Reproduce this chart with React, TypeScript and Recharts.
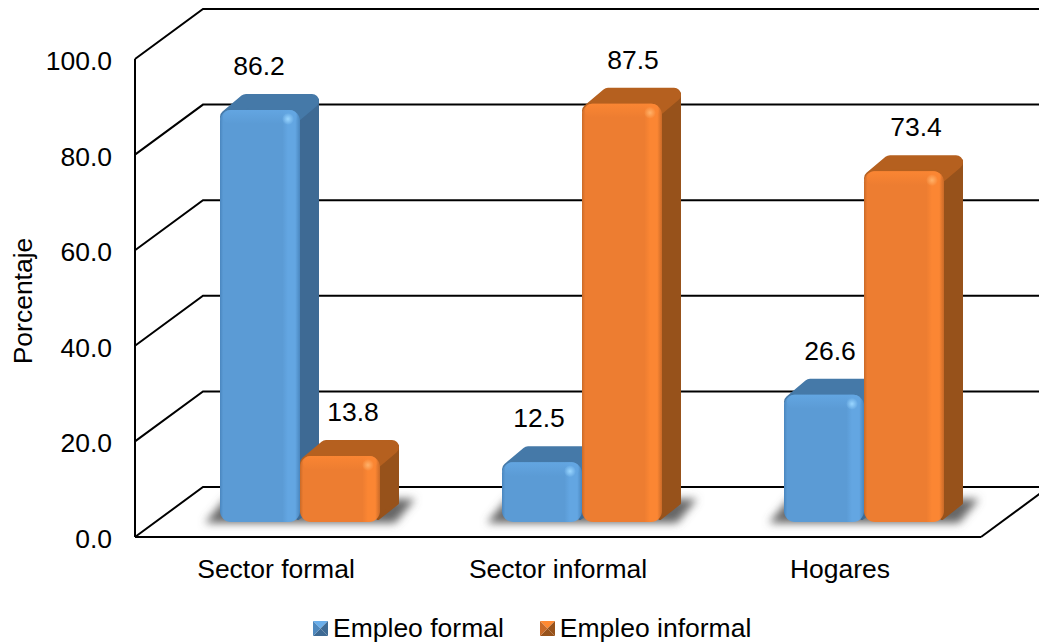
import React from 'react';
import { BarChart, Bar, XAxis, YAxis, CartesianGrid, Legend, LabelList } from 'recharts';

const categories = ['Sector formal', 'Sector informal', 'Hogares'];
const empleoFormal = [86.2, 12.5, 26.6];
const empleoInformal = [13.8, 87.5, 73.4];
const yTicks = [0, 20, 40, 60, 80, 100];

const data = categories.map((name, i) => ({
  name,
  formal: empleoFormal[i],
  informal: empleoInformal[i],
}));

const FONT = '"Liberation Sans", Arial, sans-serif';
const TEXT_SIZE = 26.5;
const WALL_DX = 68;
const WALL_DY = 50;
const PAGE_W = 1039;
const PLOT_BOTTOM = 537;
const FLOOR_DX = 24; // bars stand further back than the axis
const FLOOR_DY = 15;
const DEPTH_X = 19;
const DEPTH_Y = 16;

const BLUE = { id: 'blue', top: '#4579A8', side: '#3E6A94' };
const ORANGE = { id: 'orange', top: '#B5601F', side: '#97521B' };

// hand placed in the original, so they don't sit exactly over the bars
const formalNudge = [-1, -3, 6];
const informalNudge = [13, 11, 12];

const WallLine = ({ x1, y1, x2 }: any) => (
  <g fill="none" stroke="#000" strokeWidth={2}>
    <polyline points={`${x1},${y1} ${x1 + WALL_DX},${y1 - WALL_DY} ${PAGE_W},${y1 - WALL_DY}`} />
    {Math.abs(y1 - PLOT_BOTTOM) < 1 && <line x1={x2} y1={y1} x2={x2 + WALL_DX} y2={y1 - WALL_DY} />}
  </g>
);

const Bar3D = (props: any) => {
  const { x, y, width, height, palette, groupShadow } = props;
  const left = x + FLOOR_DX;
  const top = y - FLOOR_DY;
  const bottom = y + height - FLOOR_DY;
  const right = left + width;
  return (
    <g>
      {groupShadow && (
        <polygon
          points={`${left - 15},${bottom + 1} ${left + width * 2 + 15},${bottom + 1} ${left + width * 2 + 35},${bottom - 23} ${left + 5},${bottom - 23}`}
          fill="#666"
          filter="url(#floorBlur)"
        />
      )}
      <polygon
        points={`${right - 2},${top + 6} ${right + DEPTH_X - 2},${top - DEPTH_Y + 6} ${right + DEPTH_X - 2},${bottom - DEPTH_Y - 3} ${right - 2},${bottom - 4}`}
        fill={palette.side}
        stroke={palette.side}
        strokeWidth={4}
        strokeLinejoin="round"
      />
      <polygon
        points={`${left + 7},${top + 7} ${left + DEPTH_X + 7},${top - DEPTH_Y + 7} ${right + DEPTH_X - 7},${top - DEPTH_Y + 7} ${right - 7},${top + 7}`}
        fill={palette.top}
        stroke={palette.top}
        strokeWidth={14}
        strokeLinejoin="round"
      />
      <rect x={left} y={top} width={width} height={height} rx={11} fill={`url(#${palette.id}Front)`} />
      <rect x={left + 3} y={top} width={width - 6} height={Math.min(14, height)} rx={7} fill={`url(#${palette.id}Cap)`} />
      <circle cx={right - 12} cy={top + 9} r={6} fill={`url(#${palette.id}Glint)`} />
    </g>
  );
};

const ValueLabel = (props: any) => {
  const { x, y, width, value, index, nudge } = props;
  return (
    <text
      x={x + FLOOR_DX + width / 2 + nudge[index]}
      y={y - FLOOR_DY - DEPTH_Y - 28}
      dy={9}
      textAnchor="middle"
      fontSize={TEXT_SIZE}
      fontFamily={FONT}
      fill="#000"
    >
      {value.toFixed(1)}
    </text>
  );
};

const YTick = ({ x, y, payload }: any) => (
  <text x={x - 15} y={y} dy={11} textAnchor="end" fontSize={TEXT_SIZE} fontFamily={FONT} fill="#000">
    {payload.value.toFixed(1)}
  </text>
);

const Swatch = ({ top, left, right, bottom }: any) => (
  <svg width={15} height={15} style={{ display: 'block' }}>
    <polygon points="0,0 15,0 7.5,7.5" fill={top} />
    <polygon points="15,0 15,15 7.5,7.5" fill={right} />
    <polygon points="0,15 15,15 7.5,7.5" fill={bottom} />
    <polygon points="0,0 0,15 7.5,7.5" fill={left} />
  </svg>
);

const legendItems = [
  { label: 'Empleo formal', top: '#6AAEEA', left: '#4E88BE', right: '#3E6A94', bottom: '#3E6A94' },
  { label: 'Empleo informal', top: '#FF8A33', left: '#C96A28', right: '#97521B', bottom: '#97521B' },
];

const LegendRow = () => (
  <div style={{ display: 'flex', paddingLeft: 313, paddingTop: 26, fontFamily: FONT, fontSize: TEXT_SIZE, color: '#000', lineHeight: '30px' }}>
    {legendItems.map((item, i) => (
      <div key={item.label} style={{ display: 'flex', alignItems: 'center', marginRight: i === 0 ? 36 : 0 }}>
        <Swatch {...item} />
        <span style={{ marginLeft: 5 }}>{item.label}</span>
      </div>
    ))}
  </div>
);

const FrontGradients = ({ id, dark, base, light, glint }: any) => (
  <>
    <linearGradient id={`${id}Front`} x1="0" y1="0" x2="1" y2="0">
      <stop offset="0%" stopColor={dark} />
      <stop offset="4%" stopColor={base} />
      <stop offset="78%" stopColor={base} />
      <stop offset="85%" stopColor={light} />
      <stop offset="94%" stopColor={light} />
      <stop offset="100%" stopColor={dark} />
    </linearGradient>
    <linearGradient id={`${id}Cap`} x1="0" y1="0" x2="0" y2="1">
      <stop offset="0%" stopColor={light} stopOpacity={0.95} />
      <stop offset="100%" stopColor={light} stopOpacity={0} />
    </linearGradient>
    <radialGradient id={`${id}Glint`}>
      <stop offset="0%" stopColor={glint} />
      <stop offset="100%" stopColor={glint} stopOpacity={0} />
    </radialGradient>
  </>
);

export default function App() {
  return (
    <div style={{ position: 'absolute', left: 0, top: 0 }}>
      <BarChart
        width={PAGE_W}
        height={643}
        data={data}
        barSize={80}
        barGap={0}
        margin={{ top: 59, right: 58, bottom: 0, left: 0 }}
      >
        <defs>
          <FrontGradients id="blue" dark="#4A86BE" base="#5B9BD5" light="#63A6E2" glint="#9AD6FF" />
          <FrontGradients id="orange" dark="#C96A28" base="#ED7D31" light="#FB8633" glint="#FFB26A" />
          <filter id="floorBlur" x="-20%" y="-50%" width="140%" height="200%">
            <feGaussianBlur stdDeviation="4" />
          </filter>
        </defs>
        <CartesianGrid vertical={false} horizontal={(p: any) => <WallLine key={p.key} {...p} />} syncWithTicks />
        <YAxis
          width={135}
          domain={[0, 100]}
          ticks={yTicks}
          axisLine={{ stroke: '#000', strokeWidth: 2 }}
          tickLine={false}
          tick={<YTick />}
          interval={0}
          label={{ value: 'Porcentaje', angle: -90, position: 'insideLeft', offset: 23, dy: 3, style: { fontFamily: FONT, fontSize: TEXT_SIZE, fill: '#000', textAnchor: 'middle' } }}
        />
        <XAxis
          dataKey="name"
          height={50}
          axisLine={{ stroke: '#000', strokeWidth: 2 }}
          tickLine={false}
          tickMargin={16}
          tick={{ fontFamily: FONT, fontSize: TEXT_SIZE, fill: '#000' }}
          interval={0}
        />
        <Legend height={56} verticalAlign="bottom" content={<LegendRow />} />
        <Bar dataKey="formal" isAnimationActive={false} shape={<Bar3D palette={BLUE} groupShadow />}>
          <LabelList dataKey="formal" content={<ValueLabel nudge={formalNudge} />} />
        </Bar>
        <Bar dataKey="informal" isAnimationActive={false} shape={<Bar3D palette={ORANGE} />}>
          <LabelList dataKey="informal" content={<ValueLabel nudge={informalNudge} />} />
        </Bar>
      </BarChart>
    </div>
  );
}
